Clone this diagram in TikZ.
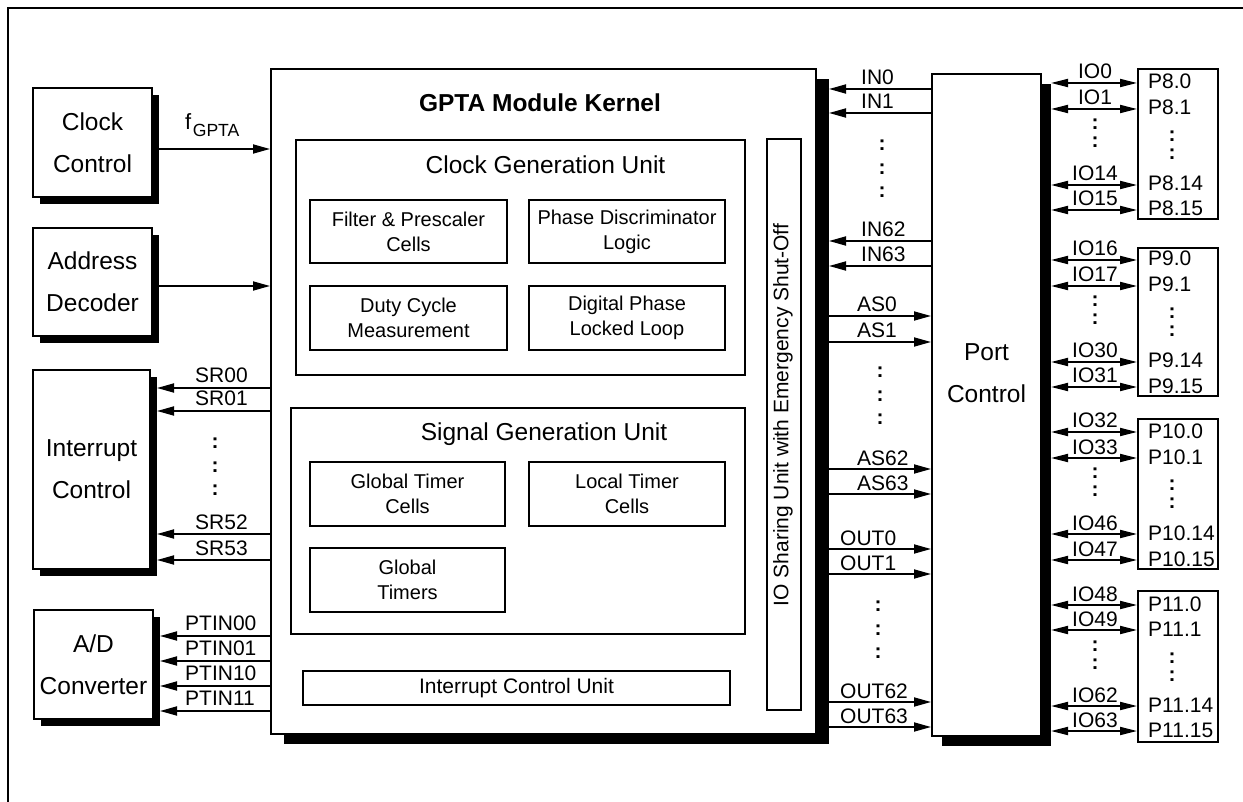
\documentclass[tikz,border=0pt]{standalone}
\usepackage{fontspec}
\setmainfont{Liberation Sans}
\usetikzlibrary{arrows.meta,shadows}
\begin{document}
\begin{tikzpicture}[x=1pt,y=-1pt,
  box/.style={draw,line width=2pt,fill=white,inner sep=0pt,align=center},
  shsmall/.style={drop shadow={shadow xshift=7pt,shadow yshift=-7pt,fill=black,opacity=1}},
  shkern/.style={drop shadow={shadow xshift=13pt,shadow yshift=-10pt,fill=black,opacity=1}},
  shport/.style={drop shadow={shadow xshift=10pt,shadow yshift=-10pt,fill=black,opacity=1}},
  big/.style={font=\fontsize{24.5}{42}\selectfont},
  inbox/.style={box,line width=1.8pt,font=\fontsize{20}{25}\selectfont},
  lbl/.style={inner sep=0pt,font=\fontsize{21}{24}\selectfont},
  dots3/.style={inner sep=0pt,align=center,font=\fontsize{21}{23.5}\selectfont\bfseries},
  dots2/.style={inner sep=0pt,align=center,font=\fontsize{21}{18}\selectfont\bfseries},
  arr/.style={line width=1.8pt,-{Triangle[length=17pt,width=9pt]}},
  darr/.style={line width=1.8pt,{Triangle[length=17pt,width=8pt]}-{Triangle[length=17pt,width=8pt]}},
]
\useasboundingbox (0,0) rectangle (1243,802);
\draw[line width=1.2pt] (8,802) -- (8,8) -- (1243,8);

% left blocks
\node[box,big,shsmall,minimum width=119pt,minimum height=109pt] (cc) at (92.5,142.5) {Clock\\Control};
\node[box,big,shsmall,minimum width=119pt,minimum height=108pt] (ad) at (92.5,282) {Address\\Decoder};
\node[box,big,shsmall,minimum width=117pt,minimum height=199pt] (ic) at (91.5,469.5) {Interrupt\\Control};
\node[box,big,shsmall,minimum width=119pt,minimum height=109pt] (adc) at (93.5,664.5) {A/D\\Converter};

% kernel
\node[box,shkern,minimum width=545pt,minimum height=665pt] (kern) at (543.5,401.5) {};
\node[inner sep=0pt,anchor=base,font=\fontsize{24.5}{28}\selectfont\bfseries] (kt) at (540,112) {GPTA Module Kernel};

\node[box,minimum width=449pt,minimum height=235pt] (cgu) at (520.5,257.5) {};
\node[inner sep=0pt,anchor=base,font=\fontsize{24.5}{28}\selectfont] (cgut) at (545.5,174) {Clock Generation Unit};
\node[inbox,minimum width=197pt,minimum height=63pt] (fp) at (408.5,231.5) {Filter \& Prescaler\\Cells};
\node[inbox,minimum width=196pt,minimum height=63pt] (pd) at (627,231.5) {Phase Discriminator\\Logic};
\node[inbox,minimum width=197pt,minimum height=64pt] (dc) at (408.5,318) {Duty Cycle\\Measurement};
\node[inbox,minimum width=196pt,minimum height=64pt] (dp) at (627,318) {Digital Phase\\Locked Loop};

\node[box,minimum width=454pt,minimum height=226pt] (sgu) at (518,521) {};
\node[inner sep=0pt,anchor=base,font=\fontsize{24.5}{28}\selectfont] (sgut) at (544,440) {Signal Generation Unit};
\node[inbox,minimum width=195pt,minimum height=64pt] (gtc) at (407.5,494) {Global Timer\\Cells};
\node[inbox,minimum width=196pt,minimum height=64pt] (ltc) at (627,494) {Local Timer\\Cells};
\node[inbox,minimum width=195pt,minimum height=64pt] (gt) at (407.5,580) {Global\\Timers};
\node[inbox,minimum width=427pt,minimum height=34pt,font=\fontsize{21}{24}\selectfont] (icu) at (516.5,688) {Interrupt Control Unit};

\node[box,line width=1.8pt,minimum width=34pt,minimum height=571pt] (iosu) at (784,424.5) {};
\node[inner sep=0pt,rotate=90,font=\fontsize{21}{24}\selectfont] (iosut) at (783,415) {IO Sharing Unit with Emergency Shut-Off};

% port control
\node[box,shport,minimum width=109pt,minimum height=662pt] (pc) at (986.5,405) {};
\node[inner sep=0pt,big,align=center] (pct) at (986.5,373) {Port\\Control};

% port pin boxes
\node[box,minimum width=80pt,minimum height=150pt] (p1) at (1178,144) {};
\node[box,minimum width=80pt,minimum height=148pt] (p2) at (1178,322) {};
\node[box,minimum width=80pt,minimum height=150pt] (p3) at (1178,494) {};
\node[box,minimum width=80pt,minimum height=151pt] (p4) at (1178,666.5) {};

% left connectors
\draw[arr] (cc.east |- 0,149) -- (kern.west |- 0,149);
\node[inner sep=0pt,anchor=base west] (fg) at (185,130) {{\fontsize{22}{26}\selectfont f}\kern1.5pt\raisebox{-7pt}{\fontsize{17.6}{20}\selectfont GPTA}};
\draw[arr] (ad.east |- 0,286) -- (kern.west |- 0,286);

\foreach \y/\t/\n in {388/SR00/a,411/SR01/b,534/SR52/c,560/SR53/d} {
  \draw[arr,shorten >=6pt] (kern.west |- 0,\y) -- (ic.east |- 0,\y);
  \node[lbl,anchor=base west] (sr\n) at (195,\y-5) {\t};
}
\node[dots3] (srd) at (215,467) {:\\:\\:};

\foreach \y/\t/\n in {636/PTIN00/a,661/PTIN01/b,686/PTIN10/c,711/PTIN11/d} {
  \draw[arr,shorten >=6pt] (kern.west |- 0,\y) -- (adc.east |- 0,\y);
  \node[lbl,anchor=base west] (pt\n) at (185,\y-6) {\t};
}

% right of kernel
\foreach \y/\t/\n in {89/IN0/a,113/IN1/b,241/IN62/c,266/IN63/d} {
  \draw[arr,shorten >=12pt] (pc.west |- 0,\y) -- (kern.east |- 0,\y);
  \node[lbl,anchor=base west] (in\n) at (861,\y-4) {\t};
}
\node[dots3] (ind) at (882,169) {:\\:\\:};

\foreach \y/\t/\n in {316/AS0/a,342/AS1/b,469/AS62/c,494/AS63/d} {
  \draw[arr,shorten <=12pt] (kern.east |- 0,\y) -- (pc.west |- 0,\y);
  \node[lbl,anchor=base west] (as\n) at (857,\y-4) {\t};
}
\node[dots3] (asd) at (880,396) {:\\:\\:};

\foreach \y/\t/\n in {549/OUT0/a,574/OUT1/b,702/OUT62/c,727/OUT63/d} {
  \draw[arr,shorten <=12pt] (kern.east |- 0,\y) -- (pc.west |- 0,\y);
  \node[lbl,anchor=base west] (out\n) at (840,\y-4) {\t};
}
\node[dots3] (outd) at (878,630) {:\\:\\:};

% IO connections
\foreach \g/\ya/\yb/\yc/\yd/\ia/\ib/\ic/\id/\pn in {
  1/83/109/185/210/0/1/14/15/8,
  2/260/286/362/387/16/17/30/31/9,
  3/432/458/534/560/32/33/46/47/10,
  4/605/630/706/731/48/49/62/63/11} {
  \foreach \y/\i/\pp/\k in {\ya/\ia/0/a,\yb/\ib/1/b,\yc/\ic/14/c,\yd/\id/15/d} {
    \draw[darr,shorten <=9pt] (pc.east |- 0,\y) -- (p\g.west |- 0,\y);
    \node[lbl,anchor=base] (io\g\k) at (1095,\y-4) {IO\i};
    \node[lbl,anchor=base west] (pp\g\k) at (1148,\y+6) {P\pn.\pp};
  }
  \node[dots2] (iod\g) at (1095,\ya+50) {:\\:};
  \node[dots2] (ppd\g) at (1172,\ya+62) {:\\:};
}
\end{tikzpicture}
\end{document}
